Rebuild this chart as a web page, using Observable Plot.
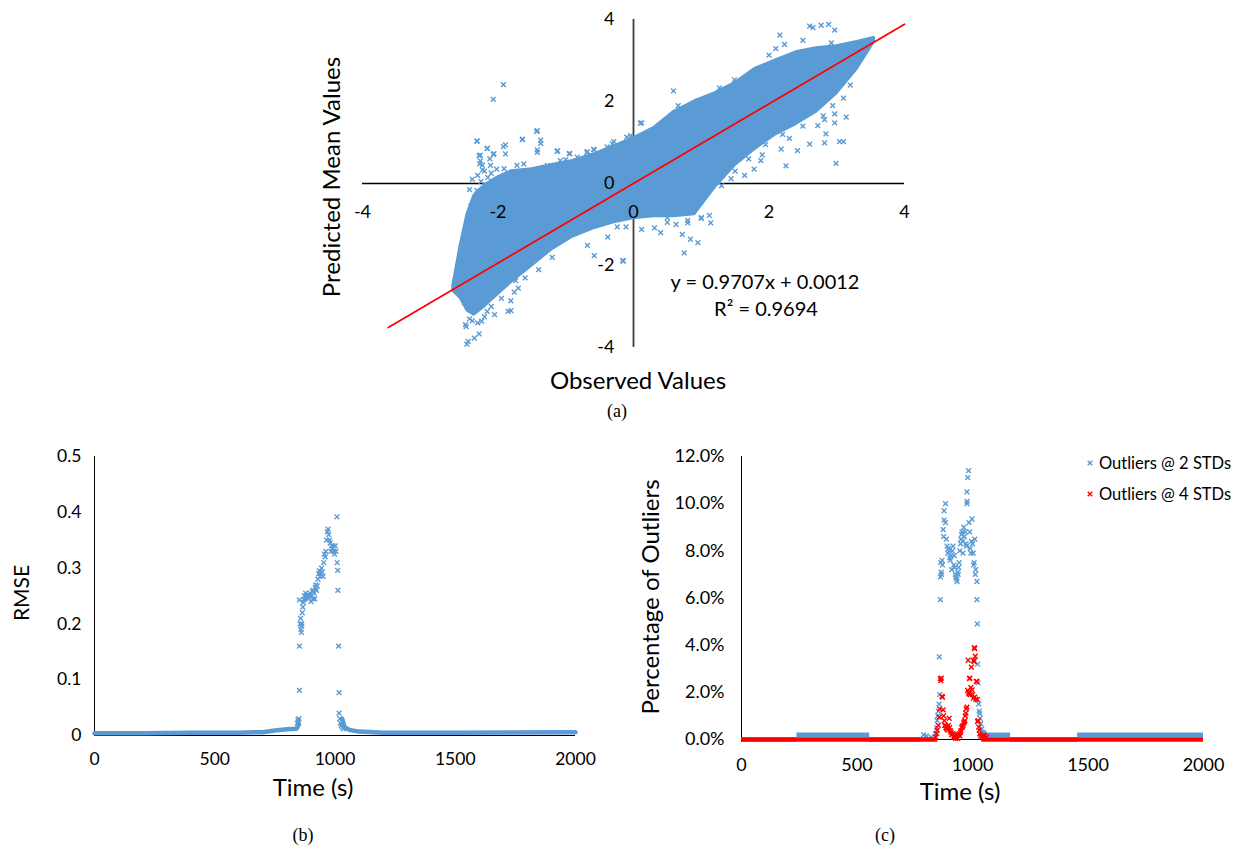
<!DOCTYPE html>
<html><head><meta charset="utf-8">
<script src="https://cdn.jsdelivr.net/npm/d3@7"></script>
<script src="https://cdn.jsdelivr.net/npm/@observablehq/plot@0.6"></script>
<style>
body{margin:0;background:#fff;}
#fig{position:relative;width:1239px;height:851px;overflow:hidden;font-family:Lato,"Open Sans",sans-serif;background:#fff;}
.panel{position:absolute;}
.lbl{position:absolute;white-space:nowrap;transform:translate(-50%,-50%);color:#000;line-height:1;}
.rot{transform:translate(-50%,-50%) rotate(-90deg);}
.cap{font-family:"Liberation Serif","Times New Roman",serif;font-size:18px;}
</style></head><body><div id="fig"></div>
<script>
// ---------- Panel (a): observed vs predicted ----------
const axisTicksA = [-4, -2, 0, 2, 4];
const yTicksA = [4, 2, 0, -2, -4];
// dense part of the cloud (edges)
const bandX  = [-2.66,-2.55,-2.45,-2.35,-2.2,-2.0,-1.8,-1.5,-1.2,-0.9,-0.6,-0.3,0.0,0.3,0.6,0.9,1.2,1.5,1.8,2.1,2.4,2.7,3.0,3.3,3.55];
const bandHi = [-2.5,-1.5,-0.75,-0.3,-0.05,0.15,0.3,0.35,0.45,0.55,0.7,0.9,1.1,1.35,1.75,2.0,2.2,2.45,2.8,3.0,3.2,3.3,3.35,3.45,3.55];
const bandLo = [-2.62,-2.8,-3.1,-3.2,-3.0,-2.7,-2.4,-2.0,-1.6,-1.3,-1.1,-0.95,-0.85,-0.8,-0.8,-0.75,-0.1,0.45,0.85,1.2,1.45,1.75,2.2,2.8,3.45];
// scattered points outside / along the dense band
const obsX = [-1.92,-2.07,-1.42,-1.64,-2.31,-2.16,-1.89,-2.06,-2.26,-2.23,-1.42,-1.37,-1.12,-0.95,-0.68,-0.58,-0.29,-0.1,0.1,
  -2.35,-2.38,-2.40,-2.48,-2.45,-2.38,-2.48,-2.28,-2.46,-2.35,-2.47,-2.44,-2.24,-2.16,-2.05,-1.81,-1.81,-1.76,-1.74,-1.85,
  -0.68,-0.58,-0.38,-0.16,-0.24,-0.11,-0.15,0.75,0.84,0.95,
  0.59,0.66,0.6,0.12,0.35,0.87,1.27,1.49,1.71,1.83,2.0,2.1,2.16,2.23,2.5,2.6,2.65,2.77,2.88,2.97,2.92,2.74,
  3.1,3.14,3.06,3.1,2.94,2.97,3.14,2.97,2.82,2.72,2.84,3.04,3.1,2.99,2.82,2.6,2.42,2.25,2.18,1.88,1.78,1.64,1.44,
  1.12,1.0,0.8,0.72,0.63,0.4,0.31,0.12,0.5,1.14,
  -1.43,-1.64,-2.31,-2.16,-2.07,-1.92,-1.89,-1.42,-1.37,-1.13,-0.94,-0.69,-0.59,-0.31,-2.28,-2.27,-2.23,-2.11,-2.31,-2.33,-2.36,
  -1.91,-1.72,-1.62,-1.27,-1.08,-1.0,-0.83,-0.68,-0.54,-0.39,-0.04,
  -2.5,-2.42,-2.3,-2.2,-2.1,-1.95,-1.7,-1.6,-1.4,-1.2,1.3,1.5,1.7,1.95,2.2,2.5,2.8,3.2,0.5,0.8,1.0,1.9,2.3,
  -2.42,-2.38,-2.3,-2.25,-2.2,-2.15,-2.1,-2.02,-2.4,-2.45,-2.52,-2.5,-2.34,-2.26,-2.12];
const predY = [2.41,2.05,1.29,1.08,1.04,0.86,0.94,0.73,0.69,0.45,0.82,1.06,0.8,0.73,0.78,0.82,1.02,1.13,1.47,
  -0.41,-0.73,-1.31,-2.0,-3.02,-3.35,-3.44,-3.67,-3.92,-3.77,-3.49,-3.85,-3.36,-3.12,-3.2,-2.86,-3.1,-2.65,-2.37,-3.12,
  -1.51,-1.76,-1.31,-1.88,-1.06,-1.06,-1.89,-1.69,-1.36,-1.44,
  2.26,1.9,1.66,1.48,1.25,1.82,2.33,2.53,2.6,2.74,3.13,3.29,3.62,3.39,3.49,3.84,3.8,3.86,3.88,3.74,3.43,3.29,
  2.88,2.68,2.47,2.08,1.9,1.7,1.62,1.48,1.56,1.41,1.21,1.02,1.02,0.49,0.99,0.96,0.8,0.43,0.84,0.56,0.35,0.2,0.12,
  -0.78,-0.83,-0.96,-1.24,-1.0,-1.2,-1.08,-1.12,-0.83,-0.96,
  1.27,1.07,1.03,0.85,0.71,0.9,0.72,0.76,0.98,0.78,0.73,0.76,0.83,0.97,0.68,0.48,0.33,0.44,-0.17,-0.41,-0.7,
  0.36,0.44,0.48,0.44,0.56,0.58,0.64,0.5,0.6,0.89,1.17,
  -2.9,-3.3,-3.4,-3.25,-3.0,-2.8,-2.55,-2.3,-2.1,-1.8,-0.05,0.3,0.6,0.95,1.2,1.4,1.65,2.4,-0.95,-0.9,-0.85,0.7,1.1,
  -0.15,0.1,0.2,0.05,0.3,0.15,0.25,0.35,-0.55,-1.0,-1.6,-2.3,-1.1,0.55,0.6];
// trend line from the chart's own equation
const trendSlope = 0.9707, trendIntercept = 0.0012;
const trendX = [-3.62, 4.0];

// ---------- Panel (b): RMSE over time ----------
const rmseTicksX = [0, 500, 1000, 1500, 2000];
const rmseTicksY = [0, 0.1, 0.2, 0.3, 0.4, 0.5];
const baseT   = [0,200,400,600,700,750,800,840,850, 1030,1040,1060,1100,1200,1500,2000];
const baseV   = [0.004,0.004,0.005,0.005,0.006,0.009,0.011,0.012,0.02, 0.03,0.015,0.01,0.007,0.005,0.005,0.006];
const baseSeg = [0,0,0,0,0,0,0,0,0, 1,1,1,1,1,1,1];
const rmseT = [843,846,848,850,852,852,852,855,857,858,860,861,862,864,866,868,870,873,876,878,880,884,887,890,893,896,900,903,906,
  908,910,913,916,918,920,923,926,929,932,935,938,941,944,947,950,953,956,959,962,965,968,971,974,977,980,983,986,989,992,995,
  998,1001,1004,1008,1009,1011,1012,1015,1017,1017,1020,1023,1026,1030,1035];
const rmseV = [0.022,0.028,0.025,0.03,0.081,0.16,0.243,0.2,0.21,0.19,0.185,0.196,0.2,0.22,0.23,0.238,0.243,0.25,0.245,0.255,0.25,0.247,
  0.252,0.246,0.25,0.255,0.24,0.25,0.258,0.245,0.26,0.255,0.245,0.265,0.27,0.26,0.268,0.28,0.29,0.295,0.285,0.29,0.3,0.293,0.285,
  0.31,0.325,0.32,0.33,0.35,0.365,0.37,0.36,0.35,0.345,0.33,0.34,0.335,0.34,0.33,0.325,0.34,0.33,0.392,0.31,0.296,0.26,0.16,0.077,
  0.04,0.03,0.022,0.018,0.015,0.012];

// ---------- Panel (c): percentage of outliers ----------
const pctTicksX = [0, 500, 1000, 1500, 2000];
const pctTicksY = [0, 2, 4, 6, 8, 10, 12];
const seriesNames = ["Outliers @ 2 STDs", "Outliers @ 4 STDs"];
// flat runs (start, end, value %)
const blueRunStart = [0, 240, 555, 1060, 1165, 1455];
const blueRunEnd   = [240, 555, 780, 1165, 1455, 2000];
const blueRunVal   = [0, 0.2, 0, 0.2, 0, 0.2];
const redRunStart  = [0, 1040];
const redRunEnd    = [850, 2000];
const redRunVal    = [0, 0];
const blueT = [788,800,820,839,845,847,850,852,855,856,858,861,861,864,863,866,868,870,873,875,877,877,883,883,887,890,893,896,899,902,
  904,907,910,913,916,919,921,924,926,928,931,933,936,938,940,942,945,948,950,953,955,957,959,962,965,969,972,974,976,977,976,979,983,
  985,988,990,993,996,998,1000,1003,1005,1007,1010,1012,1014,1019,1019,1021,1022,1024,1027,1029,1031,1033,1036,1040,1045,1050];
const blueV = [0.2,0.15,0.1,0.24,0.5,0.8,1.0,1.2,1.5,3.5,1.9,5.93,6.9,7.1,7.5,7.0,7.6,7.4,8.9,8.6,9.3,9.7,10.0,9.2,8.5,8.2,7.9,8.1,8.0,7.7,
  7.6,7.8,7.2,8.0,8.2,7.4,7.8,7.3,7.0,6.9,6.8,6.7,7.1,7.0,7.3,7.5,8.0,8.3,8.5,8.7,8.8,8.4,7.9,9.0,8.6,8.8,8.3,8.2,10.0,10.1,10.5,11.1,11.4,
  9.2,8.8,8.1,7.9,8.4,9.35,8.3,7.9,7.4,7.5,8.5,7.0,7.2,6.7,5.93,4.9,3.2,2.4,1.5,1.2,1.1,0.9,0.67,0.45,0.3,0.25];
const redT = [840,845,847,852,856,858,861,863,865,868,870,873,875,878,880,883,885,888,890,893,896,899,901,904,907,910,913,916,919,921,
  924,927,930,933,936,939,942,945,948,950,953,956,959,962,965,967,969,971,973,976,979,981,983,985,987,988,990,993,995,998,1000,1003,
  1005,1007,1008,1009,1012,1010,1014,1016,1019,1021,1022,1024,1027,1029,1031,1035,1040,1048,1052,1060];
const redV = [0.1,0.25,0.4,0.6,0.95,1.3,2.58,2.5,2.6,1.83,1.8,1.26,1.0,0.8,0.6,0.6,0.5,0.45,0.52,0.4,0.6,0.9,0.5,0.38,0.3,0.2,0.25,0.24,
  0.1,0.15,0.1,0.05,0.12,0.17,0.05,0.2,0.24,0.15,0.3,0.38,0.5,0.55,0.6,0.7,0.75,0.8,1.0,1.12,1.3,1.37,2.08,3.36,2.0,1.94,2.58,2.6,1.9,
  2.2,3.07,2.1,1.9,1.75,3.36,3.3,3.9,3.85,3.53,1.8,1.7,2.46,2.46,1.69,0.76,0.8,0.52,0.4,0.24,0.15,0.1,0.2,0.15,0.1];

// ---------- styles ----------
const BLUE = "#5b9bd5", RED = "#ff0000";
const FONT = "Lato, 'Open Sans', sans-serif";
const fig = document.getElementById("fig");
function place(el, left, top) { el.classList.add("panel"); el.style.left = left + "px"; el.style.top = top + "px"; fig.appendChild(el); }
function label(text, x, y, size, cls = "") {
  const d = document.createElement("div");
  d.className = "lbl " + cls; d.textContent = text;
  d.style.left = x + "px"; d.style.top = y + "px"; if (size) d.style.fontSize = size + "px";
  fig.appendChild(d);
  return d;
}
const mark = { symbol: "times", r: 2.3, strokeWidth: 1.4 };

// ---------- build (a) ----------
const band = bandX.map((x, i) => ({ x, lo: bandLo[i], hi: bandHi[i] }));
const pts = obsX.map((x, i) => ({ x, y: predY[i] }));
const trend = trendX.map(x => ({ x, y: trendSlope * x + trendIntercept }));
const plotA = Plot.plot({
  width: 620, height: 380, marginLeft: 62, marginRight: 16, marginTop: 19, marginBottom: 33,
  style: { fontFamily: FONT, background: "transparent", overflow: "visible" },
  x: { domain: [-4, 4], axis: null },
  y: { domain: [-4, 4], axis: null },
  marks: [
    Plot.ruleY([0], { x1: -4, x2: 4, stroke: "#000", strokeWidth: 1.4 }),
    Plot.ruleX([0], { y1: -4, y2: 4, stroke: "#404040", strokeWidth: 1.8 }),
    Plot.areaY(band, { x: "x", y1: "lo", y2: "hi", fill: BLUE, stroke: BLUE, strokeWidth: 3, curve: "linear" }),
    Plot.dot(pts, { x: "x", y: "y", stroke: BLUE, ...mark }),
    Plot.line(trend, { x: "x", y: "y", stroke: RED, strokeWidth: 1.8 }),
    Plot.text(axisTicksA, { x: d => d, y: 0, text: d => String(d), dy: 29, fontSize: 18, fill: "#000" }),
    Plot.text(yTicksA, { x: 0, y: d => d, text: d => String(d), dx: -19, textAnchor: "end", fontSize: 18, fill: "#000" })
  ]
});
place(plotA, 300, 0);
label("Predicted Mean Values", 331, 177, 24, "rot");
label("Observed Values", 638, 380, 24);
label("y = 0.9707x + 0.0012", 765, 281, 20);
label("R² = 0.9694", 766, 308, 20);
label("(a)", 617, 411, null, "cap");

// ---------- build (b) ----------
const base = baseT.map((t, i) => ({ t, v: baseV[i], s: baseSeg[i] }));
const rmse = rmseT.map((t, i) => ({ t, v: rmseV[i] }));
const plotB = Plot.plot({
  width: 620, height: 340, marginLeft: 94, marginRight: 45, marginTop: 16, marginBottom: 45,
  style: { fontFamily: FONT, fontSize: "17.5px", background: "transparent", overflow: "visible", color: "#000" },
  x: { domain: [0, 2000], ticks: rmseTicksX, tickSize: 0, tickPadding: 17, label: null, tickFormat: d => String(d) },
  y: { domain: [0, 0.5], ticks: rmseTicksY, tickSize: 0, tickPadding: 13, label: null, tickFormat: d => d === 0 ? "0" : d.toFixed(1) },
  marks: [
    Plot.ruleX([0], { y1: 0, y2: 0.5, stroke: "#000", strokeWidth: 1 }),
    Plot.ruleY([0], { x1: 0, x2: 2000, stroke: "#000", strokeWidth: 1 }),
    Plot.line(base, { x: "t", y: "v", z: "s", stroke: BLUE, strokeWidth: 4.5 }),
    Plot.dot(rmse, { x: "t", y: "v", stroke: BLUE, ...mark })
  ]
});
place(plotB, 0, 440);
label("Time (s)", 313, 787, 24);
label("RMSE", 20, 593, 21, "rot");
label("(b)", 303, 835, null, "cap");

// ---------- build (c) ----------
const blueRuns = blueRunStart.map((s, i) => ({ s, e: blueRunEnd[i], v: blueRunVal[i] }));
const redRuns = redRunStart.map((s, i) => ({ s, e: redRunEnd[i], v: redRunVal[i] }));
const bluePts = blueT.map((t, i) => ({ t, v: blueV[i], k: seriesNames[0] }));
const redPts = redT.map((t, i) => ({ t, v: redV[i], k: seriesNames[1] }));
const plotC = Plot.plot({
  width: 619, height: 340, marginLeft: 121, marginRight: 36, marginTop: 16, marginBottom: 41,
  style: { fontFamily: FONT, fontSize: "18px", background: "transparent", overflow: "visible", color: "#000" },
  x: { domain: [0, 2000], ticks: pctTicksX, tickSize: 0, tickPadding: 19, label: null, tickFormat: d => String(d) },
  y: { domain: [0, 12], ticks: pctTicksY, tickSize: 0, tickPadding: 17, label: null, tickFormat: d => d.toFixed(1) + "%" },
  color: { domain: seriesNames, range: [BLUE, RED] },
  marks: [
    Plot.ruleX([0], { y1: 0, y2: 12, stroke: "#000", strokeWidth: 1 }),
    Plot.ruleY([0], { x1: 0, x2: 2000, stroke: "#000", strokeWidth: 1 }),
    Plot.ruleY(blueRuns, { x1: "s", x2: "e", y: "v", stroke: BLUE, strokeWidth: 4.5 }),
    Plot.dot(bluePts, { x: "t", y: "v", stroke: "k", ...mark }),
    Plot.ruleY(redRuns, { x1: "s", x2: "e", y: "v", stroke: RED, strokeWidth: 4.5 }),
    Plot.dot(redPts, { x: "t", y: "v", stroke: "k", ...mark })
  ]
});
place(plotC, 620, 440);
// legend (HTML, colours match the plot's colour scale)
seriesNames.forEach((name, i) => {
  const y = 463 + i * 31;
  const s = document.createElementNS("http://www.w3.org/2000/svg", "svg");
  s.setAttribute("width", 10); s.setAttribute("height", 10);
  s.style.position = "absolute"; s.style.left = "1085px"; s.style.top = (y - 5) + "px";
  const p = document.createElementNS("http://www.w3.org/2000/svg", "path");
  p.setAttribute("d", "M2.7,2.7L7.3,7.3M7.3,2.7L2.7,7.3");
  p.setAttribute("stroke", plotC.scale("color").apply(name)); p.setAttribute("stroke-width", "1.4");
  s.appendChild(p); fig.appendChild(s);
  const d = label(name, 1099, y, 16.5);
  d.style.transform = "translate(0,-50%)";
});
label("Time (s)", 960, 791, 24);
label("Percentage of Outliers", 650, 597, 24, "rot");
label("(c)", 885, 835, null, "cap");
</script></body></html>
